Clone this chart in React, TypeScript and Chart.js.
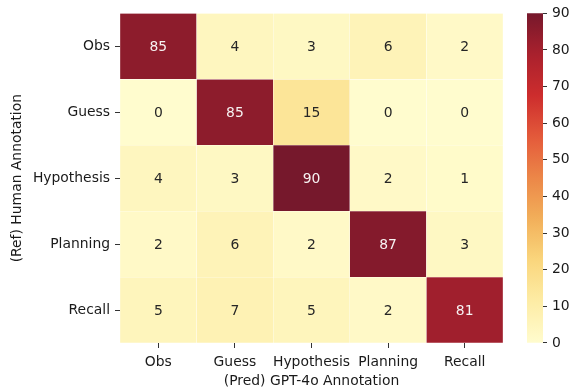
import React, { useEffect, useRef } from "react";
import { Chart, registerables } from "chart.js";

Chart.register(...registerables);

// Axis categories
const predLabels = ["Obs", "Guess", "Hypothesis", "Planning", "Recall"];
const refLabels = ["Obs", "Guess", "Hypothesis", "Planning", "Recall"];

// Confusion matrix rows (reference label), columns follow predLabels
const rowObs = [85, 4, 3, 6, 2];
const rowGuess = [0, 85, 15, 0, 0];
const rowHypothesis = [4, 3, 90, 2, 1];
const rowPlanning = [2, 6, 2, 87, 3];
const rowRecall = [5, 7, 5, 2, 81];
const matrix = [rowObs, rowGuess, rowHypothesis, rowPlanning, rowRecall];

// Colour scale range and colorbar ticks
const vmin = 0;
const vmax = 90;
const colorbarTicks = [0, 10, 20, 30, 40, 50, 60, 70, 80, 90];

const FONT = "'DejaVu Sans', sans-serif";
const FONT_SIZE = 13.9;
const TEXT = "#1a1a1a";

// Yellow-orange-red palette, evenly spaced anchors from low to high
const palette = [
  [255, 252, 206],
  [253, 236, 165],
  [250, 214, 125],
  [242, 176, 90],
  [236, 135, 72],
  [228, 90, 58],
  [205, 45, 45],
  [170, 33, 45],
  [118, 24, 44],
];

function rgbAt(t: number): number[] {
  const x = Math.min(1, Math.max(0, t)) * (palette.length - 1);
  const i = Math.min(palette.length - 2, Math.floor(x));
  const f = x - i;
  const a = palette[i];
  const b = palette[i + 1];
  return a.map((v, k) => v + (b[k] - v) * f);
}

function rgbStr(c: number[]): string {
  return `rgb(${Math.round(c[0])},${Math.round(c[1])},${Math.round(c[2])})`;
}

function colorFor(v: number): string {
  return rgbStr(rgbAt((v - vmin) / (vmax - vmin)));
}

function luminance(c: number[]): number {
  const lin = c.map((v) => {
    const s = v / 255;
    return s <= 0.03928 ? s / 12.92 : Math.pow((s + 0.055) / 1.055, 2.4);
  });
  return 0.2126 * lin[0] + 0.7152 * lin[1] + 0.0722 * lin[2];
}

// Writes each cell's value in its centre, light text on dark cells
const cellLabels = {
  id: "cellLabels",
  afterDatasetsDraw(chart: any) {
    const ctx = chart.ctx;
    ctx.save();
    ctx.font = `${FONT_SIZE}px ${FONT}`;
    ctx.textAlign = "center";
    ctx.textBaseline = "middle";
    matrix.forEach((row, r) => {
      const meta = chart.getDatasetMeta(r);
      meta.data.forEach((bar: any, c: number) => {
        const v = row[c];
        const col = rgbAt((v - vmin) / (vmax - vmin));
        ctx.fillStyle = luminance(col) < 0.408 ? "#f7f2f2" : "#262626";
        const p = bar.getCenterPoint();
        ctx.fillText(String(v), p.x, p.y + 1);
      });
    });
    ctx.restore();
  },
};

export default function App() {
  const heatRef = useRef<HTMLCanvasElement>(null);
  const barRef = useRef<HTMLCanvasElement>(null);

  useEffect(() => {
    Chart.defaults.font.family = FONT;
    Chart.defaults.font.size = FONT_SIZE;
    Chart.defaults.color = TEXT;

    const heat = new Chart(heatRef.current!, {
      type: "bar",
      data: {
        labels: predLabels,
        datasets: matrix.map((row, r) => ({
          label: refLabels[r],
          data: row.map(() => [r - 0.5, r + 0.5]),
          backgroundColor: row.map((v) => colorFor(v)),
          borderColor: "rgba(255,255,255,0.22)",
          borderWidth: 0.5,
          borderSkipped: false,
          grouped: false,
          barPercentage: 1,
          categoryPercentage: 1,
        })) as any,
      },
      options: {
        animation: false,
        responsive: false,
        devicePixelRatio: 1,
        layout: { padding: { top: 13, right: 17, bottom: 0, left: 5 } },
        plugins: {
          legend: { display: false },
          tooltip: { enabled: false },
        },
        scales: {
          x: {
            type: "category",
            afterFit: (s: any) => {
              s.height = 49;
            },
            grid: {
              offset: false,
              drawOnChartArea: false,
              drawTicks: true,
              tickLength: 5,
              tickColor: "#333",
            },
            border: { display: false },
            ticks: {
              padding: 6,
              color: TEXT,
              font: { size: FONT_SIZE },
              maxRotation: 0,
              autoSkip: false,
            },
            title: {
              display: true,
              text: "(Pred) GPT-4o Annotation",
              color: TEXT,
              font: { size: FONT_SIZE },
              padding: { top: 0, bottom: 2 },
            },
          },
          y: {
            type: "linear",
            min: -0.5,
            max: 4.5,
            reverse: true,
            afterFit: (s: any) => {
              s.width = 115;
            },
            afterBuildTicks: (s: any) => {
              s.ticks = refLabels.map((_, i) => ({ value: i }));
            },
            grid: {
              drawOnChartArea: false,
              drawTicks: true,
              tickLength: 5,
              tickColor: "#333",
            },
            border: { display: false },
            ticks: {
              padding: 5,
              color: TEXT,
              font: { size: FONT_SIZE },
              callback: (v: any) => refLabels[Number(v)] ?? "",
            },
            title: {
              display: true,
              text: "(Ref) Human Annotation",
              color: TEXT,
              font: { size: FONT_SIZE },
              padding: { top: 4, bottom: 4 },
            },
          },
        },
      },
      plugins: [cellLabels],
    });

    const bar = new Chart(barRef.current!, {
      type: "bar",
      data: {
        labels: [""],
        datasets: [
          {
            data: [[vmin, vmax]] as any,
            borderWidth: 0,
            barPercentage: 1,
            categoryPercentage: 1,
            backgroundColor: (ctx: any) => {
              const ch = ctx.chart;
              const ys = ch.scales?.y;
              if (!ch.chartArea || !ys) return colorFor(vmax);
              const g = ch.ctx.createLinearGradient(
                0,
                ys.getPixelForValue(vmin),
                0,
                ys.getPixelForValue(vmax)
              );
              for (let i = 0; i <= 36; i++) {
                g.addColorStop(i / 36, rgbStr(rgbAt(i / 36)));
              }
              return g;
            },
          },
        ],
      },
      options: {
        animation: false,
        responsive: false,
        devicePixelRatio: 1,
        layout: { padding: { top: 13, right: 0, bottom: 49, left: 27 } },
        plugins: {
          legend: { display: false },
          tooltip: { enabled: false },
        },
        scales: {
          x: { display: false },
          y: {
            type: "linear",
            position: "right",
            min: vmin,
            max: vmax,
            afterFit: (s: any) => {
              s.width = 29;
            },
            afterBuildTicks: (s: any) => {
              s.ticks = colorbarTicks.map((v) => ({ value: v }));
            },
            grid: {
              drawOnChartArea: false,
              drawTicks: true,
              tickLength: 4,
              tickColor: "#333",
            },
            border: { display: false },
            ticks: { padding: 5, color: TEXT, font: { size: FONT_SIZE } },
          },
        },
      },
    });

    return () => {
      heat.destroy();
      bar.destroy();
    };
  }, []);

  return (
    <div
      style={{
        position: "fixed",
        left: 0,
        top: 0,
        width: 572,
        height: 392,
        background: "#fff",
      }}
    >
      <canvas
        ref={heatRef}
        width={520}
        height={392}
        style={{ position: "absolute", left: 0, top: 0, width: 520, height: 392 }}
      />
      <canvas
        ref={barRef}
        width={72}
        height={392}
        style={{ position: "absolute", left: 500, top: 0, width: 72, height: 392 }}
      />
    </div>
  );
}
